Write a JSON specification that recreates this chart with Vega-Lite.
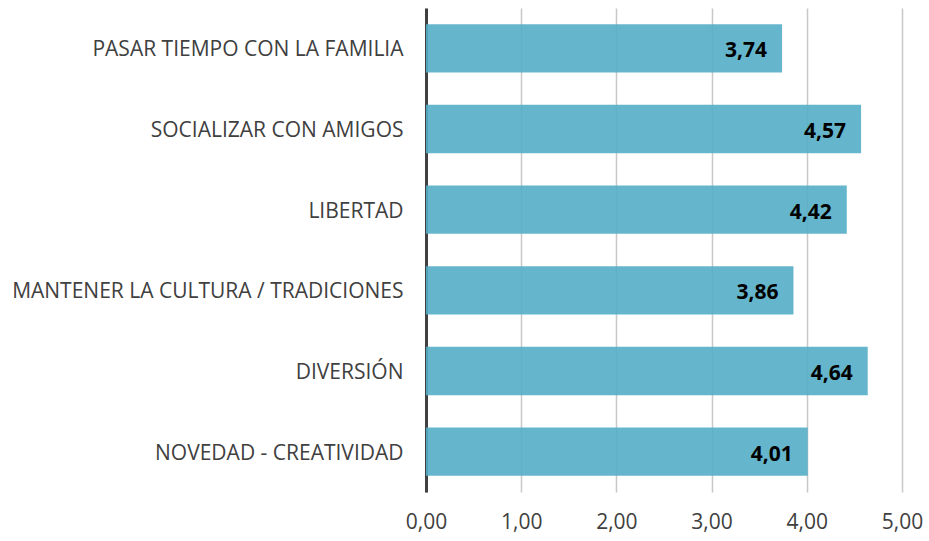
{
  "$schema": "https://vega.github.io/schema/vega-lite/v6.json",
  "width": 476,
  "height": 484,
  "autosize": {"type": "none"},
  "padding": {"left": 426, "top": 8, "right": 27, "bottom": 49},
  "background": "white",
  "config": {
    "locale": {"number": {"decimal": ",", "thousands": ".", "grouping": [3], "currency": ["", " €"]}},
    "view": {"stroke": null},
    "font": "Open Sans"
  },
  "data": {
    "values": [
      {"cat": "PASAR TIEMPO CON LA FAMILIA", "value": 3.74},
      {"cat": "SOCIALIZAR CON AMIGOS", "value": 4.57},
      {"cat": "LIBERTAD", "value": 4.42},
      {"cat": "MANTENER LA CULTURA / TRADICIONES", "value": 3.86},
      {"cat": "DIVERSIÓN", "value": 4.64},
      {"cat": "NOVEDAD - CREATIVIDAD", "value": 4.01}
    ]
  },
  "encoding": {
    "y": {
      "field": "cat", "type": "nominal", "sort": null,
      "scale": {"paddingInner": 0.4, "paddingOuter": 0.2},
      "axis": {
        "title": null, "ticks": false, "grid": false,
        "domain": true, "domainColor": "#404040", "domainWidth": 3,
        "labelFont": "Open Sans", "labelFontSize": 21, "labelColor": "#404040",
        "labelPadding": 23, "labelLimit": 500, "labelOffset": 2
      }
    },
    "x": {
      "field": "value", "type": "quantitative",
      "scale": {"domain": [0, 5], "nice": false},
      "axis": {
        "title": null, "ticks": false, "domain": false,
        "values": [0, 1, 2, 3, 4, 5], "format": ".2f",
        "grid": true, "gridColor": "#c8c8c8", "gridWidth": 1.5,
        "labelFont": "Open Sans", "labelFontSize": 21, "labelColor": "#404040",
        "labelPadding": 19, "labelFlush": false, "zindex": 0
      }
    }
  },
  "layer": [
    {"mark": {"type": "bar", "color": "#54AEC6", "opacity": 0.9}},
    {
      "mark": {"type": "text", "align": "right", "baseline": "middle", "dx": -15, "dy": 3, "fontSize": 21, "fontWeight": "bold", "color": "#000000", "font": "Open Sans"},
      "encoding": {"text": {"field": "value", "type": "quantitative", "format": ".2f"}}
    }
  ]
}
